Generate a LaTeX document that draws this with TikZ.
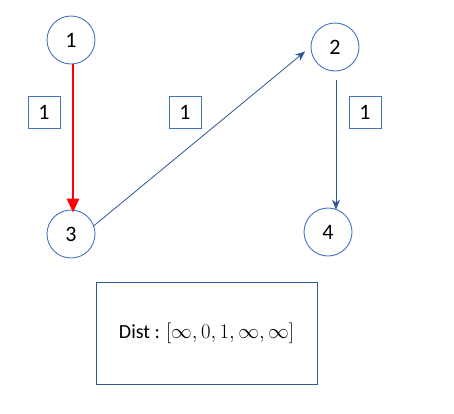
\documentclass[tikz,border=0pt]{standalone}
\usepackage{fontspec}
\setmainfont{Carlito}
\usetikzlibrary{arrows.meta,positioning}
\definecolor{nodeblue}{RGB}{68,114,196}
\definecolor{edgeblue}{RGB}{47,85,151}

\begin{document}
\begin{tikzpicture}[
  x=1pt, y=-1pt,
  vertex/.style={draw=nodeblue, circle, line width=0.9pt, minimum size=48pt, inner sep=0pt, font=\fontsize{22}{26}\selectfont},
  weight/.style={draw=nodeblue, line width=0.8pt, minimum size=32pt, inner sep=0pt, font=\fontsize{22}{26}\selectfont},
  edge/.style={-{Stealth[length=10pt,width=8pt]}, draw=edgeblue, line width=0.8pt},
  chosen/.style={-{Triangle[length=14pt,width=12pt]}, draw=red, line width=2.8pt}
]
\useasboundingbox (0,0) rectangle (454,413);
\node[vertex] (n1) at (71,40) {1};
\node[vertex] (n2) at (335,47) {2};
\node[vertex] (n3) at (71,234) {3};
\node[vertex] (n4) at (328,232) {4};
\node[weight] (w13) at (44,112) {1};
\node[weight] (w32) at (185,112) {1};
\node[weight] (w24) at (365,112) {1};
\node[draw=edgeblue, line width=0.8pt, minimum width=221pt, minimum height=102pt, font=\fontsize{20}{24}\selectfont] (dist) at (206.5,333) {Dist : $[\infty,0,1,\infty,\infty]$};
\draw[chosen] ([xshift=2]n1.south) -- ([xshift=2,yshift=-3]n3.north);
\draw[edge, shorten >=7pt] (n3.20) -- (n2.west);
\draw[edge] ([xshift=1,yshift=-9]n2.south) -- ([xshift=8,yshift=-2]n4.north);
\end{tikzpicture}
\end{document}
